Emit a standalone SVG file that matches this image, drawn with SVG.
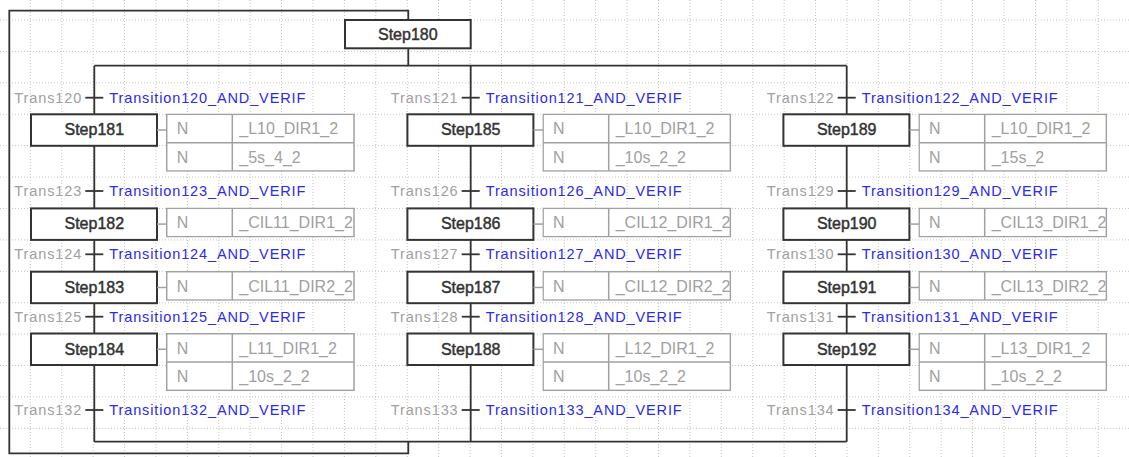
<svg xmlns="http://www.w3.org/2000/svg" width="1129" height="457" viewBox="0 0 1129 457">
<style>
.grid line{stroke:#c4c4c4;stroke-width:1;stroke-dasharray:1 2}
.wire{stroke:#333;stroke-width:1.8;fill:none}
.step rect{fill:#fff;stroke:#333;stroke-width:2}
.step text{font-family:"Liberation Sans",Arial,sans-serif;font-size:16px;fill:#333;stroke:#333;stroke-width:0.45;text-anchor:middle}
.act rect{fill:#fff;stroke:#a0a0a0;stroke-width:1.5}
.act line,.stub{stroke:#a0a0a0;stroke-width:1.5}
.act text{font-family:"Liberation Sans",Arial,sans-serif;font-size:16px;fill:#a0a0a0}
.tick{stroke:#333;stroke-width:1.8}
.tn{font-family:"Liberation Sans",Arial,sans-serif;font-size:14.5px;fill:#a0a0a0;text-anchor:end}
.tc{font-family:"Liberation Sans",Arial,sans-serif;font-size:14.5px;fill:#2a2af2}
</style>
<rect width="1129" height="457" fill="#fff"/>
<g class="grid">
<line x1="30.3" y1="0" x2="30.3" y2="457"/><line x1="61.71" y1="0" x2="61.71" y2="457"/><line x1="93.12" y1="0" x2="93.12" y2="457"/><line x1="124.53" y1="0" x2="124.53" y2="457"/><line x1="155.94" y1="0" x2="155.94" y2="457"/><line x1="187.35" y1="0" x2="187.35" y2="457"/><line x1="218.76" y1="0" x2="218.76" y2="457"/><line x1="250.17" y1="0" x2="250.17" y2="457"/><line x1="281.58" y1="0" x2="281.58" y2="457"/><line x1="312.99" y1="0" x2="312.99" y2="457"/><line x1="344.4" y1="0" x2="344.4" y2="457"/><line x1="375.81" y1="0" x2="375.81" y2="457"/><line x1="407.22" y1="0" x2="407.22" y2="457"/><line x1="438.63" y1="0" x2="438.63" y2="457"/><line x1="470.04" y1="0" x2="470.04" y2="457"/><line x1="501.45" y1="0" x2="501.45" y2="457"/><line x1="532.86" y1="0" x2="532.86" y2="457"/><line x1="564.27" y1="0" x2="564.27" y2="457"/><line x1="595.68" y1="0" x2="595.68" y2="457"/><line x1="627.09" y1="0" x2="627.09" y2="457"/><line x1="658.5" y1="0" x2="658.5" y2="457"/><line x1="689.91" y1="0" x2="689.91" y2="457"/><line x1="721.32" y1="0" x2="721.32" y2="457"/><line x1="752.73" y1="0" x2="752.73" y2="457"/><line x1="784.14" y1="0" x2="784.14" y2="457"/><line x1="815.55" y1="0" x2="815.55" y2="457"/><line x1="846.96" y1="0" x2="846.96" y2="457"/><line x1="878.37" y1="0" x2="878.37" y2="457"/><line x1="909.78" y1="0" x2="909.78" y2="457"/><line x1="941.19" y1="0" x2="941.19" y2="457"/><line x1="972.6" y1="0" x2="972.6" y2="457"/><line x1="1004.01" y1="0" x2="1004.01" y2="457"/><line x1="1035.42" y1="0" x2="1035.42" y2="457"/><line x1="1066.83" y1="0" x2="1066.83" y2="457"/><line x1="1098.24" y1="0" x2="1098.24" y2="457"/>
<line x1="0" y1="20" x2="1129" y2="20"/><line x1="0" y1="51.41" x2="1129" y2="51.41"/><line x1="0" y1="82.82" x2="1129" y2="82.82"/><line x1="0" y1="114.23" x2="1129" y2="114.23"/><line x1="0" y1="145.64" x2="1129" y2="145.64"/><line x1="0" y1="177.05" x2="1129" y2="177.05"/><line x1="0" y1="208.46" x2="1129" y2="208.46"/><line x1="0" y1="239.87" x2="1129" y2="239.87"/><line x1="0" y1="271.28" x2="1129" y2="271.28"/><line x1="0" y1="302.69" x2="1129" y2="302.69"/><line x1="0" y1="334.1" x2="1129" y2="334.1"/><line x1="0" y1="365.51" x2="1129" y2="365.51"/><line x1="0" y1="396.92" x2="1129" y2="396.92"/><line x1="0" y1="428.33" x2="1129" y2="428.33"/>
</g>
<g id="connectors" class="wire">
<path d="M408.3,441.7 V453.3 H9.3 V10.7 H408.3 V20"/>
<path d="M408.3,48.3 V65.7"/>
<path d="M94.3,65.7 H846.7"/>
<path d="M94.3,65.7 V114.3 M94.3,145.8 V208.4 M94.3,239.9 V271.7 M94.3,303.2 V333.5 M94.3,365 V441.7"/>
<path d="M470.7,65.7 V114.3 M470.7,145.8 V208.4 M470.7,239.9 V271.7 M470.7,303.2 V333.5 M470.7,365 V441.7"/>
<path d="M846.7,65.7 V114.3 M846.7,145.8 V208.4 M846.7,239.9 V271.7 M846.7,303.2 V333.5 M846.7,365 V441.7"/>
<path d="M94.3,441.7 H846.7"/>
</g>
<g id="step180" class="step"><rect x="345" y="20" width="125.7" height="28.3"/><text x="407.8" y="40">Step180</text></g>

<g id="trans120"><line class="tick" x1="85.3" y1="97.7" x2="103.3" y2="97.7"/><text class="tn" x="81.3" y="102.7" textLength="67">Trans120</text><text class="tc" x="109.3" y="102.7" textLength="196">Transition120_AND_VERIF</text></g>
<g id="trans123"><line class="tick" x1="85.3" y1="191" x2="103.3" y2="191"/><text class="tn" x="81.3" y="196" textLength="67">Trans123</text><text class="tc" x="109.3" y="196" textLength="196">Transition123_AND_VERIF</text></g>
<g id="trans124"><line class="tick" x1="85.3" y1="254.3" x2="103.3" y2="254.3"/><text class="tn" x="81.3" y="259.3" textLength="67">Trans124</text><text class="tc" x="109.3" y="259.3" textLength="196">Transition124_AND_VERIF</text></g>
<g id="trans125"><line class="tick" x1="85.3" y1="316.7" x2="103.3" y2="316.7"/><text class="tn" x="81.3" y="321.7" textLength="67">Trans125</text><text class="tc" x="109.3" y="321.7" textLength="196">Transition125_AND_VERIF</text></g>
<g id="trans132"><line class="tick" x1="85.3" y1="410" x2="103.3" y2="410"/><text class="tn" x="81.3" y="415" textLength="67">Trans132</text><text class="tc" x="109.3" y="415" textLength="196">Transition132_AND_VERIF</text></g>
<g id="trans121"><line class="tick" x1="461.7" y1="97.7" x2="479.7" y2="97.7"/><text class="tn" x="457.7" y="102.7" textLength="67">Trans121</text><text class="tc" x="485.7" y="102.7" textLength="196">Transition121_AND_VERIF</text></g>
<g id="trans126"><line class="tick" x1="461.7" y1="191" x2="479.7" y2="191"/><text class="tn" x="457.7" y="196" textLength="67">Trans126</text><text class="tc" x="485.7" y="196" textLength="196">Transition126_AND_VERIF</text></g>
<g id="trans127"><line class="tick" x1="461.7" y1="254.3" x2="479.7" y2="254.3"/><text class="tn" x="457.7" y="259.3" textLength="67">Trans127</text><text class="tc" x="485.7" y="259.3" textLength="196">Transition127_AND_VERIF</text></g>
<g id="trans128"><line class="tick" x1="461.7" y1="316.7" x2="479.7" y2="316.7"/><text class="tn" x="457.7" y="321.7" textLength="67">Trans128</text><text class="tc" x="485.7" y="321.7" textLength="196">Transition128_AND_VERIF</text></g>
<g id="trans133"><line class="tick" x1="461.7" y1="410" x2="479.7" y2="410"/><text class="tn" x="457.7" y="415" textLength="67">Trans133</text><text class="tc" x="485.7" y="415" textLength="196">Transition133_AND_VERIF</text></g>
<g id="trans122"><line class="tick" x1="837.7" y1="97.7" x2="855.7" y2="97.7"/><text class="tn" x="833.7" y="102.7" textLength="67">Trans122</text><text class="tc" x="861.7" y="102.7" textLength="196">Transition122_AND_VERIF</text></g>
<g id="trans129"><line class="tick" x1="837.7" y1="191" x2="855.7" y2="191"/><text class="tn" x="833.7" y="196" textLength="67">Trans129</text><text class="tc" x="861.7" y="196" textLength="196">Transition129_AND_VERIF</text></g>
<g id="trans130"><line class="tick" x1="837.7" y1="254.3" x2="855.7" y2="254.3"/><text class="tn" x="833.7" y="259.3" textLength="67">Trans130</text><text class="tc" x="861.7" y="259.3" textLength="196">Transition130_AND_VERIF</text></g>
<g id="trans131"><line class="tick" x1="837.7" y1="316.7" x2="855.7" y2="316.7"/><text class="tn" x="833.7" y="321.7" textLength="67">Trans131</text><text class="tc" x="861.7" y="321.7" textLength="196">Transition131_AND_VERIF</text></g>
<g id="trans134"><line class="tick" x1="837.7" y1="410" x2="855.7" y2="410"/><text class="tn" x="833.7" y="415" textLength="67">Trans134</text><text class="tc" x="861.7" y="415" textLength="196">Transition134_AND_VERIF</text></g>

<g id="step181"><g class="step"><rect x="31" y="114.3" width="126" height="31.5"/><text x="94.3" y="135.3">Step181</text></g>
<line class="stub" x1="157" y1="130" x2="166.7" y2="130"/>
<svg class="act" x="166" y="113.6" width="189" height="58.2"><rect x="0.7" y="0.7" width="187.3" height="56.7"/><line x1="0.7" y1="29.1" x2="188" y2="29.1"/><line x1="66.3" y1="0.7" x2="66.3" y2="57.4"/><text x="10.7" y="20.7">N</text><text x="73.3" y="20.7">_L10_DIR1_2</text><text x="10.7" y="49.1">N</text><text x="73.3" y="49.1">_5s_4_2</text></svg></g>
<g id="step182"><g class="step"><rect x="31" y="208.4" width="126" height="31.5"/><text x="94.3" y="229.4">Step182</text></g>
<line class="stub" x1="157" y1="224.1" x2="166.7" y2="224.1"/>
<svg class="act" x="166" y="207.6" width="189" height="29.8"><rect x="0.7" y="0.7" width="187.3" height="28.4"/><line x1="66.3" y1="0.7" x2="66.3" y2="29.1"/><text x="10.7" y="20.7">N</text><text x="73.3" y="20.7">_CIL11_DIR1_2</text></svg></g>
<g id="step183"><g class="step"><rect x="31" y="271.7" width="126" height="31.5"/><text x="94.3" y="292.7">Step183</text></g>
<line class="stub" x1="157" y1="287.5" x2="166.7" y2="287.5"/>
<svg class="act" x="166" y="271" width="189" height="29.8"><rect x="0.7" y="0.7" width="187.3" height="28.4"/><line x1="66.3" y1="0.7" x2="66.3" y2="29.1"/><text x="10.7" y="20.7">N</text><text x="73.3" y="20.7">_CIL11_DIR2_2</text></svg></g>
<g id="step184"><g class="step"><rect x="31" y="333.5" width="126" height="31.5"/><text x="94.3" y="354.5">Step184</text></g>
<line class="stub" x1="157" y1="349.3" x2="166.7" y2="349.3"/>
<svg class="act" x="166" y="333" width="189" height="58.2"><rect x="0.7" y="0.7" width="187.3" height="56.7"/><line x1="0.7" y1="29.1" x2="188" y2="29.1"/><line x1="66.3" y1="0.7" x2="66.3" y2="57.4"/><text x="10.7" y="20.7">N</text><text x="73.3" y="20.7">_L11_DIR1_2</text><text x="10.7" y="49.1">N</text><text x="73.3" y="49.1">_10s_2_2</text></svg></g>

<g id="step185"><g class="step"><rect x="407.4" y="114.3" width="126" height="31.5"/><text x="470.7" y="135.3">Step185</text></g>
<line class="stub" x1="533.4" y1="130" x2="543.1" y2="130"/>
<svg class="act" x="542.4" y="113.6" width="189" height="58.2"><rect x="0.7" y="0.7" width="187.3" height="56.7"/><line x1="0.7" y1="29.1" x2="188" y2="29.1"/><line x1="66.3" y1="0.7" x2="66.3" y2="57.4"/><text x="10.7" y="20.7">N</text><text x="73.3" y="20.7">_L10_DIR1_2</text><text x="10.7" y="49.1">N</text><text x="73.3" y="49.1">_10s_2_2</text></svg></g>
<g id="step186"><g class="step"><rect x="407.4" y="208.4" width="126" height="31.5"/><text x="470.7" y="229.4">Step186</text></g>
<line class="stub" x1="533.4" y1="224.1" x2="543.1" y2="224.1"/>
<svg class="act" x="542.4" y="207.6" width="189" height="29.8"><rect x="0.7" y="0.7" width="187.3" height="28.4"/><line x1="66.3" y1="0.7" x2="66.3" y2="29.1"/><text x="10.7" y="20.7">N</text><text x="73.3" y="20.7">_CIL12_DIR1_2</text></svg></g>
<g id="step187"><g class="step"><rect x="407.4" y="271.7" width="126" height="31.5"/><text x="470.7" y="292.7">Step187</text></g>
<line class="stub" x1="533.4" y1="287.5" x2="543.1" y2="287.5"/>
<svg class="act" x="542.4" y="271" width="189" height="29.8"><rect x="0.7" y="0.7" width="187.3" height="28.4"/><line x1="66.3" y1="0.7" x2="66.3" y2="29.1"/><text x="10.7" y="20.7">N</text><text x="73.3" y="20.7">_CIL12_DIR2_2</text></svg></g>
<g id="step188"><g class="step"><rect x="407.4" y="333.5" width="126" height="31.5"/><text x="470.7" y="354.5">Step188</text></g>
<line class="stub" x1="533.4" y1="349.3" x2="543.1" y2="349.3"/>
<svg class="act" x="542.4" y="333" width="189" height="58.2"><rect x="0.7" y="0.7" width="187.3" height="56.7"/><line x1="0.7" y1="29.1" x2="188" y2="29.1"/><line x1="66.3" y1="0.7" x2="66.3" y2="57.4"/><text x="10.7" y="20.7">N</text><text x="73.3" y="20.7">_L12_DIR1_2</text><text x="10.7" y="49.1">N</text><text x="73.3" y="49.1">_10s_2_2</text></svg></g>

<g id="step189"><g class="step"><rect x="783.4" y="114.3" width="126" height="31.5"/><text x="846.7" y="135.3">Step189</text></g>
<line class="stub" x1="909.4" y1="130" x2="919.1" y2="130"/>
<svg class="act" x="918.4" y="113.6" width="189" height="58.2"><rect x="0.7" y="0.7" width="187.3" height="56.7"/><line x1="0.7" y1="29.1" x2="188" y2="29.1"/><line x1="66.3" y1="0.7" x2="66.3" y2="57.4"/><text x="10.7" y="20.7">N</text><text x="73.3" y="20.7">_L10_DIR1_2</text><text x="10.7" y="49.1">N</text><text x="73.3" y="49.1">_15s_2</text></svg></g>
<g id="step190"><g class="step"><rect x="783.4" y="208.4" width="126" height="31.5"/><text x="846.7" y="229.4">Step190</text></g>
<line class="stub" x1="909.4" y1="224.1" x2="919.1" y2="224.1"/>
<svg class="act" x="918.4" y="207.6" width="189" height="29.8"><rect x="0.7" y="0.7" width="187.3" height="28.4"/><line x1="66.3" y1="0.7" x2="66.3" y2="29.1"/><text x="10.7" y="20.7">N</text><text x="73.3" y="20.7">_CIL13_DIR1_2</text></svg></g>
<g id="step191"><g class="step"><rect x="783.4" y="271.7" width="126" height="31.5"/><text x="846.7" y="292.7">Step191</text></g>
<line class="stub" x1="909.4" y1="287.5" x2="919.1" y2="287.5"/>
<svg class="act" x="918.4" y="271" width="189" height="29.8"><rect x="0.7" y="0.7" width="187.3" height="28.4"/><line x1="66.3" y1="0.7" x2="66.3" y2="29.1"/><text x="10.7" y="20.7">N</text><text x="73.3" y="20.7">_CIL13_DIR2_2</text></svg></g>
<g id="step192"><g class="step"><rect x="783.4" y="333.5" width="126" height="31.5"/><text x="846.7" y="354.5">Step192</text></g>
<line class="stub" x1="909.4" y1="349.3" x2="919.1" y2="349.3"/>
<svg class="act" x="918.4" y="333" width="189" height="58.2"><rect x="0.7" y="0.7" width="187.3" height="56.7"/><line x1="0.7" y1="29.1" x2="188" y2="29.1"/><line x1="66.3" y1="0.7" x2="66.3" y2="57.4"/><text x="10.7" y="20.7">N</text><text x="73.3" y="20.7">_L13_DIR1_2</text><text x="10.7" y="49.1">N</text><text x="73.3" y="49.1">_10s_2_2</text></svg></g>
</svg>
